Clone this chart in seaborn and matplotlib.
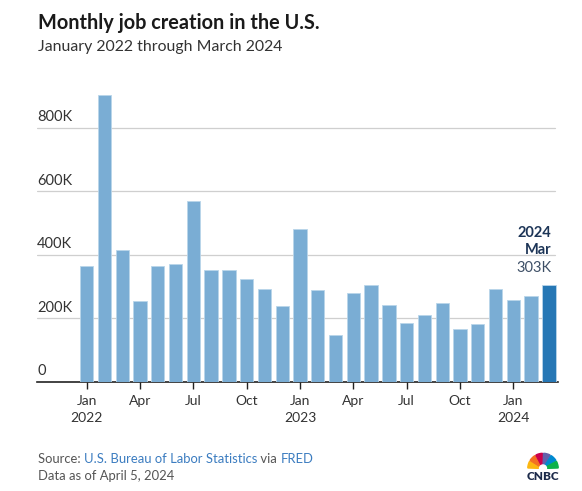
import matplotlib
matplotlib.use("Agg")
import matplotlib.pyplot as plt
import matplotlib.transforms as mtransforms
from matplotlib.patches import Wedge
import seaborn as sns
import pandas as pd

# ---- data ----
months = ["2022-01", "2022-02", "2022-03", "2022-04", "2022-05", "2022-06",
          "2022-07", "2022-08", "2022-09", "2022-10", "2022-11", "2022-12",
          "2023-01", "2023-02", "2023-03", "2023-04", "2023-05", "2023-06",
          "2023-07", "2023-08", "2023-09", "2023-10", "2023-11", "2023-12",
          "2024-01", "2024-02", "2024-03"]
jobs_k = [364, 904, 414, 254, 364, 370, 568, 352, 350, 324, 290, 239,
          482, 287, 146, 278, 303, 240, 184, 210, 246, 165, 182, 290,
          256, 270, 303]
tick_labels = ["Jan\n2022", "Apr", "Jul", "Oct", "Jan\n2023", "Apr", "Jul", "Oct", "Jan\n2024"]
y_ticks = [0, 200, 400, 600, 800]
y_tick_labels = ["0", "200K", "400K", "600K", "800K"]

LIGHT = "#7aadd4"
DARK = "#2677b5"
TEXT = "#333333"
NAVY = "#1d3557"

sns.set_theme(style="white")
plt.rcParams["font.family"] = ["Lato", "DejaVu Sans"]

df = pd.DataFrame({"month": months, "jobs": jobs_k})
palette = {m: (DARK if i == len(months) - 1 else LIGHT) for i, m in enumerate(months)}

fig = plt.figure(figsize=(5.82, 4.91), dpi=100)
ax = fig.add_axes([0.064, 0.223, 0.894, 0.614])

sns.barplot(data=df, x="month", y="jobs", hue="month", palette=palette,
            legend=False, width=0.75, saturation=1, ax=ax,
            edgecolor="#b9d5ea", linewidth=0.6, zorder=3)

ax.set_xlim(-2.78, 26.49)
ax.set_ylim(0, 950)

# gridlines and y labels
for v, lab in zip(y_ticks, y_tick_labels):
    if v > 0:
        ax.axhline(v, color="#cfcfcf", lw=0.9, zorder=1, xmax=0.995)
    ax.text(0.0, v + 10, lab, transform=mtransforms.blended_transform_factory(ax.transAxes, ax.transData),
            ha="left", va="bottom", fontsize=10.5, color=TEXT)
ax.set_yticks([])
ax.set_ylabel("")
ax.set_xlabel("")

ax.set_xticks(list(range(0, 27, 3)))
ax.set_xticklabels(tick_labels, fontsize=10, color=TEXT, linespacing=1.45)
ax.tick_params(axis="x", length=5, width=1, color="#222222", pad=5, bottom=True)

for s in ["top", "right", "left"]:
    ax.spines[s].set_visible(False)
ax.spines["bottom"].set_color("#222222")
ax.spines["bottom"].set_linewidth(1.2)

# annotation of latest bar
ax.text(26.15, 468, "2024", ha="right", va="center", fontsize=10.5, fontweight="bold", color=NAVY)
ax.text(26.15, 413, "Mar", ha="right", va="center", fontsize=10.5, fontweight="bold", color=NAVY)
ax.text(26.15, 358, f"{jobs_k[-1]}K", ha="right", va="center", fontsize=10.5, color="#3d4f66")

# titles
fig.text(38 / 582, 1 - 23 / 491, "Monthly job creation in the U.S.", fontsize=14.3,
         fontweight="bold", color="#1a1a1a", ha="left", va="center")
fig.text(38 / 582, 1 - 47 / 491, "January 2022 through March 2024", fontsize=11.4,
         color=TEXT, ha="left", va="center")

# footer
src_grey = "#555555"
link = "#3b7cc0"
FS = 9.4
t1 = fig.text(38 / 582, 1 - 459 / 491, "Source: ", fontsize=FS, color=src_grey, ha="left", va="center")
fig.canvas.draw()
r = fig.canvas.get_renderer()
def after(prev, s, color):
    bb = prev.get_window_extent(r)
    x = bb.x1 / fig.bbox.width
    return fig.text(x, 1 - 459 / 491, s, fontsize=FS, color=color, ha="left", va="center")
t2 = after(t1, "U.S. Bureau of Labor Statistics", link)
t3 = after(t2, " via ", src_grey)
t4 = after(t3, "FRED", link)
fig.text(38 / 582, 1 - 476 / 491, "Data as of April 5, 2024", fontsize=FS, color=src_grey,
         ha="left", va="center")

# CNBC logo
lax = fig.add_axes([527 / 582, 1 - 469 / 491, 32 / 582, 17 / 491])
lax.set_xlim(-1, 1)
lax.set_ylim(0, 1)
lax.set_aspect("equal", adjustable="datalim")
lax.axis("off")
feathers = ["#fcb711", "#f37021", "#cc004c", "#6460aa", "#0089d0", "#0db14b"]
for i, c in enumerate(feathers):
    a0 = 180 - i * 30
    lax.add_patch(Wedge((0, 0), 0.95, a0 - 28, a0 - 2, color=c))
lax.add_patch(Wedge((0, 0), 0.22, 0, 180, color="white"))
fig.text(543 / 582, 1 - 476 / 491, "CNBC", fontsize=8.5, fontweight="heavy", color="#1c2a4a",
         ha="center", va="center")

fig.savefig("out.png", dpi=100)
